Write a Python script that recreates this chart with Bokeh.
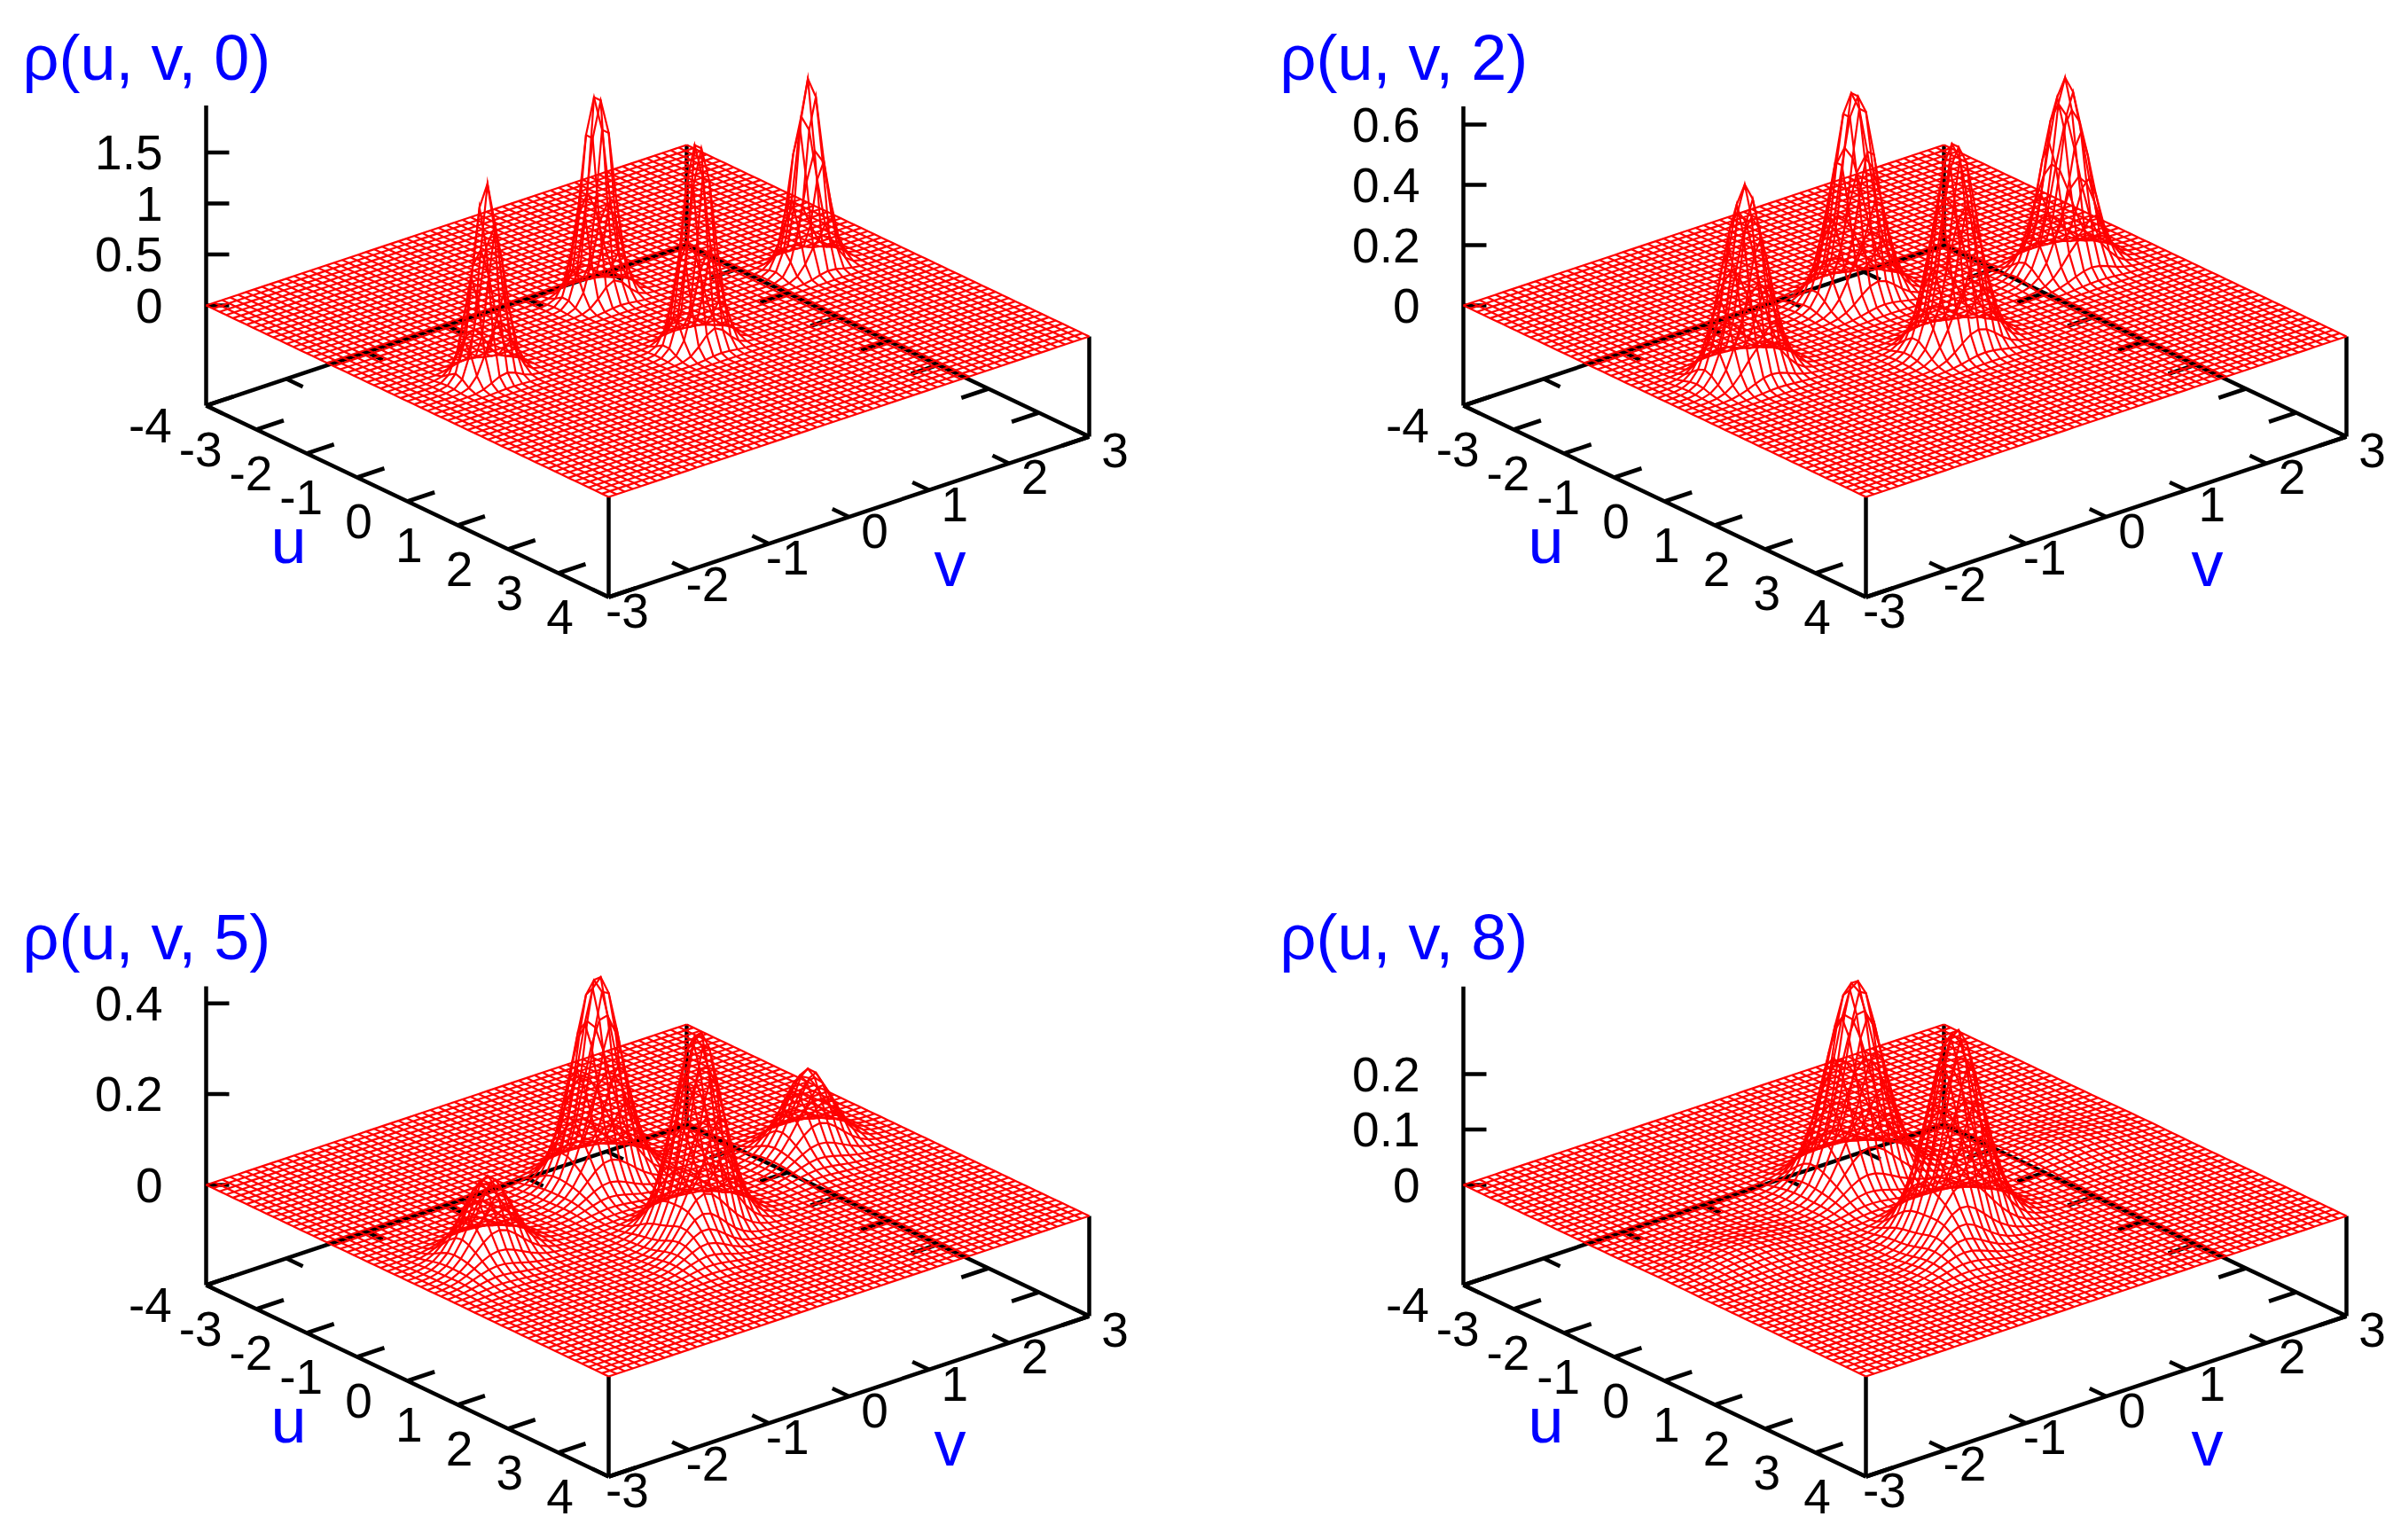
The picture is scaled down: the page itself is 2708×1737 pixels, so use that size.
# Four gnuplot-style wireframes rho(u, v, t).
# NOTE: the mesh nodes cannot be read one by one from the picture. The surfaces are
# rebuilt from the peak centres, heights and widths (Gaussian model),
# so the mesh is an approximation and not the original node data.
import numpy as np
from bokeh.core.properties import value
from bokeh.embed import file_html
from bokeh.models import ColumnDataSource, Range1d
from bokeh.plotting import figure
from bokeh.resources import INLINE

TITLES = ["\u03c1(u, v, 0)", "\u03c1(u, v, 2)", "\u03c1(u, v, 5)", "\u03c1(u, v, 8)"]
U_TICKS = [-4, -3, -2, -1, 0, 1, 2, 3, 4]
V_TICKS = [-3, -2, -1, 0, 1, 2, 3]
Z_TICKS_T0 = [0, 0.5, 1, 1.5]
Z_TICKS_T2 = [0, 0.2, 0.4, 0.6]
Z_TICKS_T5 = [0, 0.2, 0.4]
Z_TICKS_T8 = [0, 0.1, 0.2]
Z_MAX = [1.96, 0.66, 0.4375, 0.358]
GRID_LINES = 61

# peak centre u, centre v, height, long width, short width, long-axis tilt in degrees
PEAKS_T0_U = [0.02, -1.0, 1.0, -0.02]
PEAKS_T0_V = [-2.02, 0.0, 0.0, 2.02]
PEAKS_T0_H = [1.9, 2.12, 2.12, 1.88]
PEAKS_T0_SA = [0.16, 0.16, 0.16, 0.16]
PEAKS_T0_SB = [0.16, 0.16, 0.16, 0.16]
PEAKS_T0_TILT = [0, 0, 0, 0]

PEAKS_T2_U = [0.0, -1.0, 1.0, 0.0]
PEAKS_T2_V = [-2.0, 0.0, 0.0, 2.0]
PEAKS_T2_H = [0.63, 0.70, 0.69, 0.63]
PEAKS_T2_SA = [0.23, 0.23, 0.23, 0.23]
PEAKS_T2_SB = [0.23, 0.23, 0.23, 0.23]
PEAKS_T2_TILT = [0, 0, 0, 0]

PEAKS_T5_U = [0.0, -1.0, 1.0, 0.0, -0.8, 1.35, 0.2, 0.2]
PEAKS_T5_V = [-2.0, 0.0, 0.0, 2.0, -0.13, -0.22, -2.13, 1.87]
PEAKS_T5_H = [0.13, 0.355, 0.345, 0.13, 0.11, 0.12, 0.05, 0.05]
PEAKS_T5_SA = [0.27, 0.27, 0.27, 0.27, 0.42, 0.5, 0.42, 0.42]
PEAKS_T5_SB = [0.27, 0.27, 0.27, 0.27, 0.22, 0.22, 0.22, 0.22]
PEAKS_T5_TILT = [0, 0, 0, 0, -32, -32, -32, -32]

PEAKS_T8_U = [0.0, -1.0, 1.0, 0.0, -0.8, 1.35]
PEAKS_T8_V = [-2.0, 0.0, 0.0, 2.0, -0.13, -0.22]
PEAKS_T8_H = [0.012, 0.28, 0.28, 0.01, 0.09, 0.1]
PEAKS_T8_SA = [0.45, 0.31, 0.31, 0.45, 0.46, 0.55]
PEAKS_T8_SB = [0.45, 0.31, 0.31, 0.45, 0.24, 0.24]
PEAKS_T8_TILT = [0, 0, 0, 0, -32, -32]

PANELS = [
    dict(title=TITLES[0], ticks=Z_TICKS_T0, labels=["0", "0.5", "1", "1.5"], zmax=Z_MAX[0], k=115.0, dx=0, dy=0,
         peaks=(PEAKS_T0_U, PEAKS_T0_V, PEAKS_T0_H, PEAKS_T0_SA, PEAKS_T0_SB, PEAKS_T0_TILT)),
    dict(title=TITLES[1], ticks=Z_TICKS_T2, labels=["0", "0.2", "0.4", "0.6"], zmax=Z_MAX[1], k=340.0, dx=1418, dy=0,
         peaks=(PEAKS_T2_U, PEAKS_T2_V, PEAKS_T2_H, PEAKS_T2_SA, PEAKS_T2_SB, PEAKS_T2_TILT)),
    dict(title=TITLES[2], ticks=Z_TICKS_T5, labels=["0", "0.2", "0.4"], zmax=Z_MAX[2], k=512.0, dx=0, dy=992,
         peaks=(PEAKS_T5_U, PEAKS_T5_V, PEAKS_T5_H, PEAKS_T5_SA, PEAKS_T5_SB, PEAKS_T5_TILT)),
    dict(title=TITLES[3], ticks=Z_TICKS_T8, labels=["0", "0.1", "0.2"], zmax=Z_MAX[3], k=625.0, dx=1418, dy=992,
         peaks=(PEAKS_T8_U, PEAKS_T8_V, PEAKS_T8_H, PEAKS_T8_SA, PEAKS_T8_SB, PEAKS_T8_TILT)),
]

# View: where the corner (u=-4, v=-3, z=0) sits and how each axis projects, in page pixels.
OX, OY = 232.0, 344.0
DU_X, DU_Y = 454.0 / 8, 216.0 / 8
DV_X, DV_Y = 542.0 / 6, -181.0 / 6
BASE_DROP = 113.0
U_TICK, V_TICK = 0.34, 0.33
Z_TICK_LEN = 26.0
TEXT_LIFT = 0.36  # of the font size, corrects where the svg backend puts the baseline

RED, BLACK, BLUE = "#ff0000", "#000000", "#0000ff"
FONT = value("Liberation Sans")

p = figure(width=2692, height=1721, output_backend="svg", toolbar_location=None,
           x_range=Range1d(0, 2692), y_range=Range1d(1721, 0),
           x_axis_location=None, y_axis_location=None, min_border=0,
           outline_line_color=None, background_fill_color="white", border_fill_color="white")
p.grid.visible = False


def surface(u, v, peaks):
    z = np.zeros_like(u)
    for u0, v0, h, sa, sb, tilt in zip(*peaks):
        c, s = np.cos(np.radians(tilt)), np.sin(np.radians(tilt))
        a = (u - u0) * c + (v - v0) * s
        b = -(u - u0) * s + (v - v0) * c
        z += h * np.exp(-(a**2) / (2 * sa**2) - (b**2) / (2 * sb**2))
    return z


def to_page(u, v, z, panel):
    x = OX + panel["dx"] + (np.asarray(u) + 4) * DU_X + (np.asarray(v) + 3) * DV_X
    y = OY + panel["dy"] + (np.asarray(u) + 4) * DU_Y + (np.asarray(v) + 3) * DV_Y - np.asarray(z) * panel["k"]
    return x, y


def add_text(xs, ys, texts, size, color, align):
    ys = [y - TEXT_LIFT * size for y in ys]
    src = ColumnDataSource(dict(x=list(xs), y=ys, t=list(texts)))
    p.text("x", "y", text="t", source=src, text_font=FONT, text_font_size=value(f"{size}px"),
           text_color=color, text_align=align, text_baseline="alphabetic")


for panel in PANELS:
    zb = -BASE_DROP / panel["k"]
    seg_x, seg_y = [], []

    def seg(a, b):
        xa, ya = to_page(*a, panel)
        xb, yb = to_page(*b, panel)
        seg_x.append([float(xa), float(xb)])
        seg_y.append([float(ya), float(yb)])

    # base frame and vertical edges
    seg((-4, -3, zb), (4, -3, zb))
    seg((4, -3, zb), (4, 3, zb))
    seg((4, 3, zb), (-4, 3, zb))
    seg((-4, 3, zb), (-4, -3, zb))
    seg((-4, -3, zb), (-4, -3, panel["zmax"]))
    seg((4, -3, zb), (4, -3, 0))
    seg((4, 3, zb), (4, 3, 0))
    seg((-4, 3, zb), (-4, 3, 0))
    for u in U_TICKS:
        seg((u, -3, zb), (u, -3 + U_TICK, zb))
        seg((u, 3, zb), (u, 3 - U_TICK, zb))
    for v in V_TICKS:
        seg((4, v, zb), (4 - V_TICK, v, zb))
        seg((-4, v, zb), (-4 + V_TICK, v, zb))
    for t in panel["ticks"]:
        x0, y0 = to_page(-4, -3, t, panel)
        seg_x.append([float(x0), float(x0) + Z_TICK_LEN])
        seg_y.append([float(y0), float(y0)])
    p.multi_line(seg_x, seg_y, line_color=BLACK, line_width=4.5)

    # wireframe
    gu = np.linspace(-4, 4, GRID_LINES)
    gv = np.linspace(-3, 3, GRID_LINES)
    U, V = np.meshgrid(gu, gv, indexing="ij")
    Z = surface(U, V, panel["peaks"])
    X, Y = to_page(U, V, Z, panel)
    xs = [row.tolist() for row in X] + [col.tolist() for col in X.T]
    ys = [row.tolist() for row in Y] + [col.tolist() for col in Y.T]
    p.multi_line(xs, ys, line_color=RED, line_width=2.2, line_join="miter")

    # tick labels
    zx, zy = [], []
    for t in panel["ticks"]:
        _, y0 = to_page(-4, -3, t, panel)
        zx.append(183 + panel["dx"])
        zy.append(float(y0) + 20)
    add_text(zx, zy, panel["labels"], 55, BLACK, "right")

    ux, uy = [], []
    for u in U_TICKS:
        x0, y0 = to_page(u, -3, zb, panel)
        ux.append(float(x0) - 55 - (8 if u < 0 else 0))
        uy.append(float(y0) + 42)
    add_text(ux, uy, [str(u) for u in U_TICKS], 55, BLACK, "center")

    vx, vy = [], []
    for v in V_TICKS:
        x0, y0 = to_page(4, v, zb, panel)
        vx.append(float(x0) + 29 - (8 if v < 0 else 0))
        vy.append(float(y0) + 35.5)
    add_text(vx, vy, [str(v) for v in V_TICKS], 55, BLACK, "center")

    # titles and axis names
    add_text([25 + panel["dx"]], [90 + panel["dy"]], [panel["title"]], 72, BLUE, "left")
    add_text([325 + panel["dx"]], [635 + panel["dy"]], ["u"], 72, BLUE, "center")
    add_text([1071 + panel["dx"]], [661 + panel["dy"]], ["v"], 72, BLUE, "center")

open("out.html", "w").write(file_html(p, INLINE))
